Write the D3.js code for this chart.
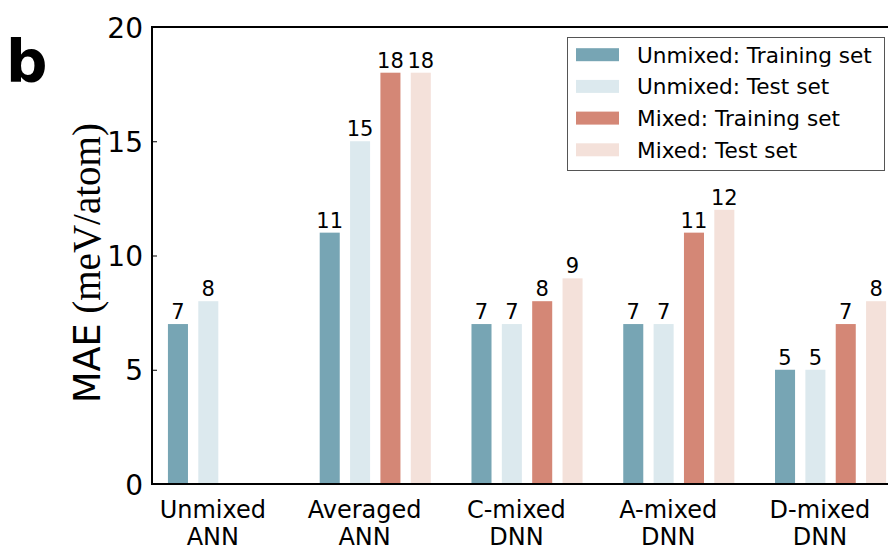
<!DOCTYPE html>
<html><head><meta charset="utf-8">
<script src="https://cdn.jsdelivr.net/npm/d3@7"></script>
<style>body{margin:0;background:#fff}svg{display:block}</style>
</head><body><svg id="c" width="888" height="550"></svg>
<script>
const categories = [["Unmixed","ANN"],["Averaged","ANN"],["C-mixed","DNN"],["A-mixed","DNN"],["D-mixed","DNN"]];
const seriesNames = ["Unmixed: Training set","Unmixed: Test set","Mixed: Training set","Mixed: Test set"];
const seriesColors = ["#77a5b4","#dce9ee","#d48776","#f4e1da"];
const unmixedTrain = [7, 11, 7, 7, 5];
const unmixedTest  = [8, 15, 7, 7, 5];
const mixedTrain   = [null, 18, 8, 11, 7];
const mixedTest    = [null, 18, 9, 12, 8];
const yTicks = [0, 5, 10, 15, 20];
const series = [unmixedTrain, unmixedTest, mixedTrain, mixedTest];

const svg = d3.select("#c");
const L = 152, R = 889, T = 27, B = 484;
const x = d3.scaleLinear().domain([-0.171, 4.685]).range([L, R]);
const y = d3.scaleLinear().domain([0, 20]).range([B, T]);
const barW = x(0.132) - x(0);
const step = 0.2;

// bars
series.forEach((vals, k) => {
  const g = svg.append("g");
  vals.forEach((v, i) => {
    if (v == null) return;
    const cx = x(i + k * step);
    g.append("rect").attr("x", cx - barW / 2).attr("y", y(v))
      .attr("width", barW).attr("height", y(0) - y(v)).attr("fill", seriesColors[k]);
    g.append("text").attr("x", cx).attr("y", y(v) - 5).attr("text-anchor", "middle")
      .attr("font-family", "DejaVu Sans").attr("font-size", 21).attr("fill", "#000").text(v);
  });
});

// frame
svg.append("line").attr("x1", L).attr("x2", R + 5).attr("y1", T).attr("y2", T).attr("stroke", "#000").attr("stroke-width", 2);
svg.append("line").attr("x1", L).attr("x2", R + 5).attr("y1", B).attr("y2", B).attr("stroke", "#000").attr("stroke-width", 2);
svg.append("line").attr("x1", L).attr("x2", L).attr("y1", T - 1).attr("y2", B + 1).attr("stroke", "#000").attr("stroke-width", 2);

// y axis
const yAxis = d3.axisLeft(y).tickValues(yTicks).tickSizeInner(-5).tickSizeOuter(0).tickPadding(9);
const ya = svg.append("g").attr("transform", `translate(${L},0)`).call(yAxis);
ya.select(".domain").remove();
ya.selectAll("line").attr("stroke", "#000").attr("stroke-width", 1);
ya.selectAll("text").attr("font-family", "DejaVu Sans").attr("font-size", 28).attr("fill", "#000").attr("dy", "0.36em");

// x labels
categories.forEach((c, i) => {
  const t = svg.append("text").attr("x", x(i + 0.23)).attr("text-anchor", "middle")
    .attr("font-family", "DejaVu Sans").attr("font-size", 24).attr("fill", "#000");
  t.append("tspan").attr("x", x(i + 0.23)).attr("y", 518).text(c[0]);
  t.append("tspan").attr("x", x(i + 0.23)).attr("y", 545).text(c[1]);
});

// y label
const yl = svg.append("text").attr("transform", "translate(100,403) rotate(-90)").attr("text-anchor", "start").attr("fill", "#000");
yl.append("tspan").attr("font-family", "DejaVu Sans").attr("font-size", 36.5).text("MAE");
yl.append("tspan").attr("font-family", "Liberation Serif").attr("font-size", 39).text(" (meV/atom)");

// panel letter
svg.append("text").attr("x", 6).attr("y", 82).attr("font-family", "DejaVu Sans").attr("font-weight", "bold")
  .attr("font-size", 58).attr("fill", "#000").text("b");

// legend
const lg = svg.append("g");
lg.append("rect").attr("x", 567.5).attr("y", 37.5).attr("width", 317).attr("height", 133)
  .attr("fill", "#fff").attr("stroke", "#555").attr("stroke-width", 1);
seriesNames.forEach((n, k) => {
  const by = 62.7 + k * 31.7;
  lg.append("rect").attr("x", 576).attr("y", by - 14.5).attr("width", 43).attr("height", 13).attr("fill", seriesColors[k]);
  lg.append("text").attr("x", 637).attr("y", by).attr("font-family", "DejaVu Sans").attr("font-size", 21.6).attr("fill", "#000").text(n);
});
</script></body></html>
